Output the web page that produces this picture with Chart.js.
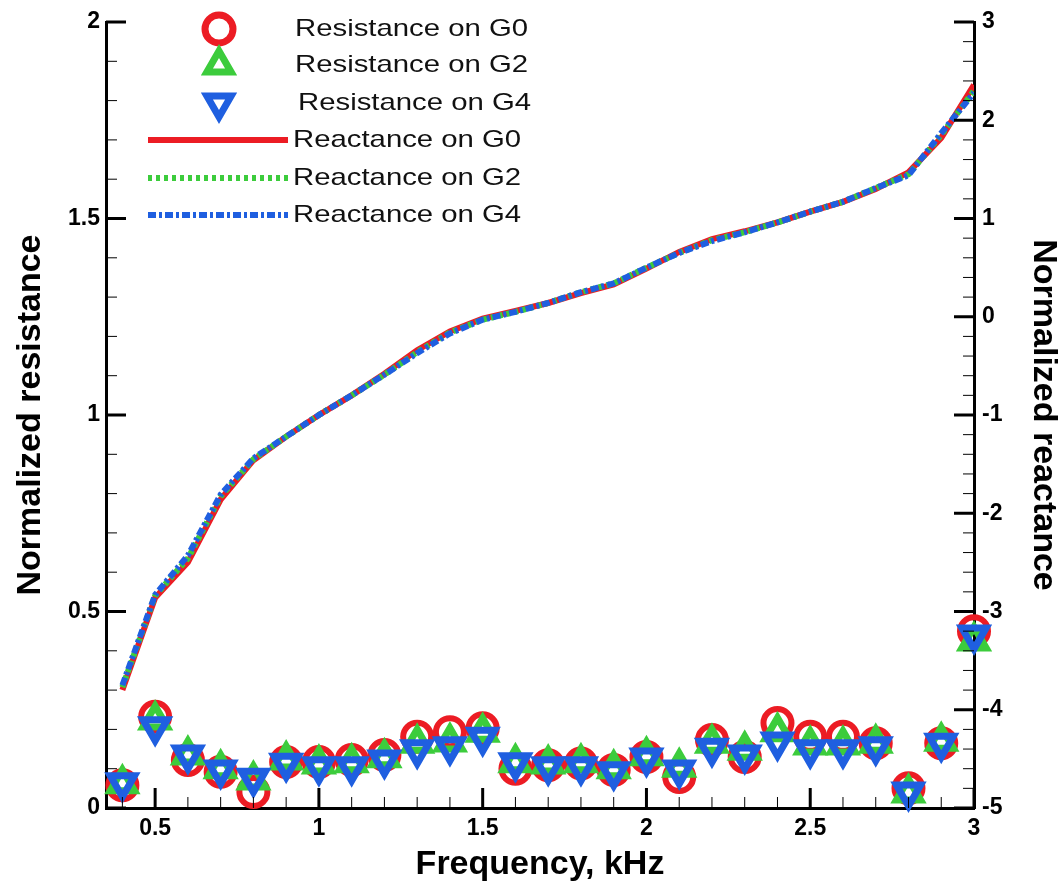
<!DOCTYPE html>
<html>
<head>
<meta charset="utf-8">
<script src="https://cdn.jsdelivr.net/npm/chart.js@4.4.1/dist/chart.umd.min.js"></script>
<style>
  html, body { margin: 0; padding: 0; background: #fff; }
  #wrap { width: 1064px; height: 887px; position: relative; }
</style>
</head>
<body>
<div id="wrap"><canvas id="chart"></canvas></div>
<script>
// frequency, kHz
var freq = [0.4, 0.5, 0.6, 0.7, 0.8, 0.9, 1.0, 1.1, 1.2, 1.3, 1.4, 1.5, 1.6, 1.7,
            1.8, 1.9, 2.0, 2.1, 2.2, 2.3, 2.4, 2.5, 2.6, 2.7, 2.8, 2.9, 3.0];

// normalized resistance (left axis)
var resG0 = [0.058, 0.232, 0.122, 0.092, 0.041, 0.117, 0.117, 0.122, 0.135, 0.181, 0.193, 0.203, 0.100, 0.109,
             0.113, 0.097, 0.130, 0.079, 0.173, 0.130, 0.216, 0.181, 0.181, 0.165, 0.050, 0.165, 0.450];
var resG2 = [0.062, 0.224, 0.135, 0.100, 0.071, 0.122, 0.112, 0.115, 0.128, 0.165, 0.168, 0.193, 0.115, 0.112,
             0.115, 0.100, 0.133, 0.104, 0.165, 0.147, 0.194, 0.160, 0.160, 0.165, 0.038, 0.170, 0.425];
var resG4 = [0.064, 0.207, 0.135, 0.097, 0.076, 0.114, 0.105, 0.105, 0.122, 0.148, 0.156, 0.180, 0.115, 0.105,
             0.105, 0.092, 0.127, 0.097, 0.152, 0.135, 0.168, 0.148, 0.148, 0.156, 0.041, 0.165, 0.440];

// normalized reactance (right axis)
var reacG0 = [-3.80, -2.86, -2.50, -1.86, -1.46, -1.22, -1.00, -0.80, -0.58, -0.34, -0.15, -0.02, 0.06, 0.14,
              0.24, 0.33, 0.49, 0.66, 0.79, 0.87, 0.96, 1.07, 1.17, 1.30, 1.47, 1.82, 2.36];
var reacG2 = [-3.77, -2.84, -2.46, -1.83, -1.45, -1.22, -1.00, -0.80, -0.59, -0.36, -0.16, -0.03, 0.05, 0.14,
              0.25, 0.34, 0.50, 0.65, 0.78, 0.86, 0.96, 1.07, 1.17, 1.31, 1.45, 1.85, 2.30];
var reacG4 = [-3.75, -2.83, -2.43, -1.81, -1.44, -1.22, -1.00, -0.80, -0.59, -0.37, -0.17, -0.03, 0.05, 0.14,
              0.25, 0.34, 0.50, 0.65, 0.77, 0.86, 0.96, 1.07, 1.17, 1.31, 1.44, 1.87, 2.28];

var xTicks = [0.5, 1, 1.5, 2, 2.5, 3];
var resTicks = [0, 0.5, 1, 1.5, 2];
var reacTicks = [-5, -4, -3, -2, -1, 0, 1, 2, 3];

var red = '#ec1c24';
var green = '#3ccc3c';
var blue = '#1f5fe0';

function pts(ys) {
    return freq.map(function (f, i) { return { x: f, y: ys[i] }; });
}

function fixTicks(list) {
    return function (scale) { scale.ticks = list.map(function (v) { return { value: v }; }); };
}

// inward major/minor ticks like the original plot
var tickMarks = {
    id: 'tickMarks',
    afterDraw: function (chart) {
        var ctx = chart.ctx, a = chart.chartArea;
        var sx = chart.scales.x, sl = chart.scales.y, sr = chart.scales.y2;
        ctx.save();
        ctx.strokeStyle = '#000';
        function mark(x1, y1, x2, y2, w) {
            ctx.lineWidth = w;
            ctx.beginPath(); ctx.moveTo(x1, y1); ctx.lineTo(x2, y2); ctx.stroke();
        }
        for (var i = 4; i <= 30; i++) {
            var px = sx.getPixelForValue(i / 10);
            if (i % 5 === 0) mark(px, a.bottom, px, a.bottom - 20, 3);
            else mark(px, a.bottom, px, a.bottom - 11, 1);
        }
        for (var j = 0; j <= 20; j++) {
            var py = sl.getPixelForValue(j / 10);
            if (j % 5 === 0) mark(a.left, py, a.left + 20, py, 3);
            else mark(a.left, py, a.left + 11, py, 1);
        }
        for (var k = -25; k <= 15; k++) {
            var pr = sr.getPixelForValue(k / 5);
            if (k % 5 === 0) mark(a.right, pr, a.right - 20, pr, 3);
            else mark(a.right, pr, a.right - 11, pr, 1);
        }
        ctx.restore();
    }
};

var legendRows = [
    { text: 'Resistance on G0', kind: 'point', style: 'circle', rot: 0, color: red, y: 29, tx: 295 },
    { text: 'Resistance on G2', kind: 'point', style: 'triangle', rot: 0, color: green, y: 65, tx: 295 },
    { text: 'Resistance on G4', kind: 'point', style: 'triangle', rot: 180, color: blue, y: 103, tx: 298 },
    { text: 'Reactance on G0', kind: 'line', dash: [], color: red, y: 140, tx: 293 },
    { text: 'Reactance on G2', kind: 'line', dash: [4, 4], color: green, y: 178, tx: 293 },
    { text: 'Reactance on G4', kind: 'line', dash: [8, 3, 3, 3], color: blue, y: 215, tx: 293 }
];

var circleR = 14, triR = 14, markW = 7;

var insideLegend = {
    id: 'insideLegend',
    afterDraw: function (chart) {
        var ctx = chart.ctx;
        ctx.save();
        ctx.font = '24px "Liberation Sans", Arial, sans-serif';
        var stretch = 233 / ctx.measureText('Resistance on G0').width;
        legendRows.forEach(function (r) {
            ctx.strokeStyle = r.color;
            if (r.kind === 'point') {
                ctx.fillStyle = 'rgba(0,0,0,0)';
                ctx.lineWidth = markW;
                ctx.setLineDash([]);
                Chart.helpers.drawPoint(ctx, { pointStyle: r.style, radius: r.style === 'circle' ? circleR : triR, rotation: r.rot, borderWidth: markW }, 219, r.y);
            } else {
                ctx.lineWidth = 6;
                ctx.setLineDash(r.dash);
                ctx.beginPath(); ctx.moveTo(148, r.y); ctx.lineTo(288, r.y); ctx.stroke();
            }
            ctx.setLineDash([]);
            ctx.fillStyle = '#111';
            ctx.textBaseline = 'middle';
            ctx.save();
            ctx.translate(r.tx, r.y);
            ctx.scale(stretch, 1);
            ctx.fillText(r.text, 0, 0);
            ctx.restore();
        });
        ctx.restore();
    }
};

Chart.defaults.font.family = '"Liberation Sans", Arial, Helvetica, sans-serif';
Chart.defaults.color = '#000';

var tickFont = { size: 23, weight: 'bold' };
var titleFont = { size: 34, weight: 'bold' };

new Chart(document.getElementById('chart'), {
    type: 'scatter',
    data: {
        datasets: [
            { label: 'Resistance on G4', data: pts(resG4), yAxisID: 'y', order: 0, showLine: false, clip: false,
              pointStyle: 'triangle', rotation: 180, pointRadius: triR, borderWidth: markW,
              borderColor: blue, backgroundColor: 'rgba(0,0,0,0)' },
            { label: 'Resistance on G2', data: pts(resG2), yAxisID: 'y', order: 1, showLine: false, clip: false,
              pointStyle: 'triangle', pointRadius: triR, borderWidth: markW,
              borderColor: green, backgroundColor: 'rgba(0,0,0,0)' },
            { label: 'Resistance on G0', data: pts(resG0), yAxisID: 'y', order: 2, showLine: false, clip: false,
              pointStyle: 'circle', pointRadius: circleR, borderWidth: 6,
              borderColor: red, backgroundColor: 'rgba(0,0,0,0)' },
            { label: 'Reactance on G4', data: pts(reacG4), yAxisID: 'y2', order: 3, showLine: true,
              pointRadius: 0, borderWidth: 6, borderColor: blue, borderDash: [8, 3, 3, 3], tension: 0 },
            { label: 'Reactance on G2', data: pts(reacG2), yAxisID: 'y2', order: 4, showLine: true,
              pointRadius: 0, borderWidth: 6, borderColor: green, borderDash: [4, 4], tension: 0 },
            { label: 'Reactance on G0', data: pts(reacG0), yAxisID: 'y2', order: 5, showLine: true,
              pointRadius: 0, borderWidth: 6, borderColor: red, tension: 0 }
        ]
    },
    options: {
        responsive: true,
        maintainAspectRatio: false,
        animation: false,
        events: [],
        layout: { padding: { top: 22, left: 0, right: 0, bottom: 0 }, autoPadding: false },
        plugins: { legend: { display: false }, tooltip: { enabled: false } },
        scales: {
            x: {
                type: 'linear', min: 0.35, max: 3,
                afterBuildTicks: fixTicks(xTicks),
                afterFit: function (s) { s.height = 79; },
                grid: { display: true, drawOnChartArea: false, drawTicks: false },
                border: { display: true, color: '#000', width: 3 },
                ticks: { font: tickFont, padding: 7, callback: function (v) { return String(v); } },
                title: { display: true, text: 'Frequency, kHz', font: titleFont, padding: { top: 0, bottom: 2 } }
            },
            y: {
                type: 'linear', position: 'left', min: 0, max: 2,
                afterBuildTicks: fixTicks(resTicks),
                afterFit: function (s) { s.width = 106; },
                grid: { display: true, drawOnChartArea: false, drawTicks: false },
                border: { display: true, color: '#000', width: 3 },
                ticks: { font: tickFont, padding: 6, callback: function (v) { return String(v); } },
                title: { display: true, text: 'Normalized resistance', font: titleFont, padding: { top: 10, bottom: 0 } }
            },
            y2: {
                type: 'linear', position: 'right', min: -5, max: 3,
                afterBuildTicks: fixTicks(reacTicks),
                afterFit: function (s) { s.width = 90; },
                grid: { display: true, drawOnChartArea: false, drawTicks: false },
                border: { display: true, color: '#000', width: 3 },
                ticks: { font: tickFont, padding: 8, callback: function (v) { return String(v); } },
                title: { display: true, text: 'Normalized reactance', font: titleFont, padding: { top: 0, bottom: 0 } }
            }
        }
    },
    plugins: [tickMarks, insideLegend]
});
</script>
</body>
</html>
